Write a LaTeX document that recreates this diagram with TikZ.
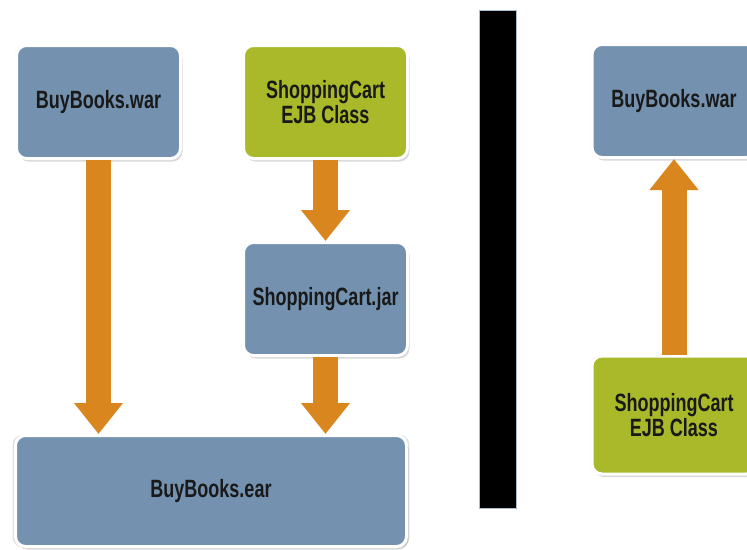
\documentclass[tikz,border=0pt]{standalone}
\usepackage{fontspec}
\setmainfont{Liberation Sans}[FakeStretch=0.72]
\definecolor{boxblue}{RGB}{116,146,176}
\definecolor{boxgreen}{RGB}{169,185,42}
\definecolor{arrorange}{RGB}{218,134,31}
\usepackage{tikz}
\usetikzlibrary{arrows.meta,positioning,shadows}

\begin{document}
\begin{tikzpicture}[x=1pt, y=-1pt,
      pkg/.style={draw=white, line width=3pt, fill=boxblue, rounded corners=10pt,
                  minimum width=164pt, minimum height=113pt,
                  font=\fontsize{25}{25}\selectfont\bfseries, text=black!90, align=center,
                  general shadow={fill=black, opacity=0.12, shadow scale=1.015},
                  drop shadow={shadow xshift=2pt, shadow yshift=-3pt, opacity=0.3}},
      cls/.style={pkg, fill=boxgreen},
      arr/.style={-{Triangle[width=47pt, length=31pt]}, line width=25pt, color=arrorange}
  ]
    \useasboundingbox (0,0) rectangle (747,549);
    \fill[white] (0,0) rectangle (747,549);
    \clip (0,0) rectangle (747,549);
    % left side: building the ear
    \node[pkg] (war) at (98.5,102) {BuyBooks.war};
    \node[cls, right=60pt of war]  (ejb) {ShoppingCart\\ EJB Class};
    \node[pkg, below=81pt of ejb]  (jar) {ShoppingCart.jar};
    \node[pkg, minimum width=391pt, minimum height=111pt] (ear) at (211,491) {BuyBooks.ear};
    \draw[arr] (war.south) -- (war.south |- ear.north);
    \draw[arr] (ejb) -- (jar);
    \draw[arr] (jar.south) -- (jar.south |- ear.north);
    % separator
    \fill[black, draw=boxblue!60, line width=1pt] (479,10) rectangle (516,508);
    % right side
    \node[pkg] (rwar) at (674,101) {BuyBooks.war};
    \node[cls, minimum height=118pt] (rejb) at (674,415) {ShoppingCart\\ EJB Class};
    \draw[arr] (rejb) -- (rwar);
  \end{tikzpicture}
\end{document}
